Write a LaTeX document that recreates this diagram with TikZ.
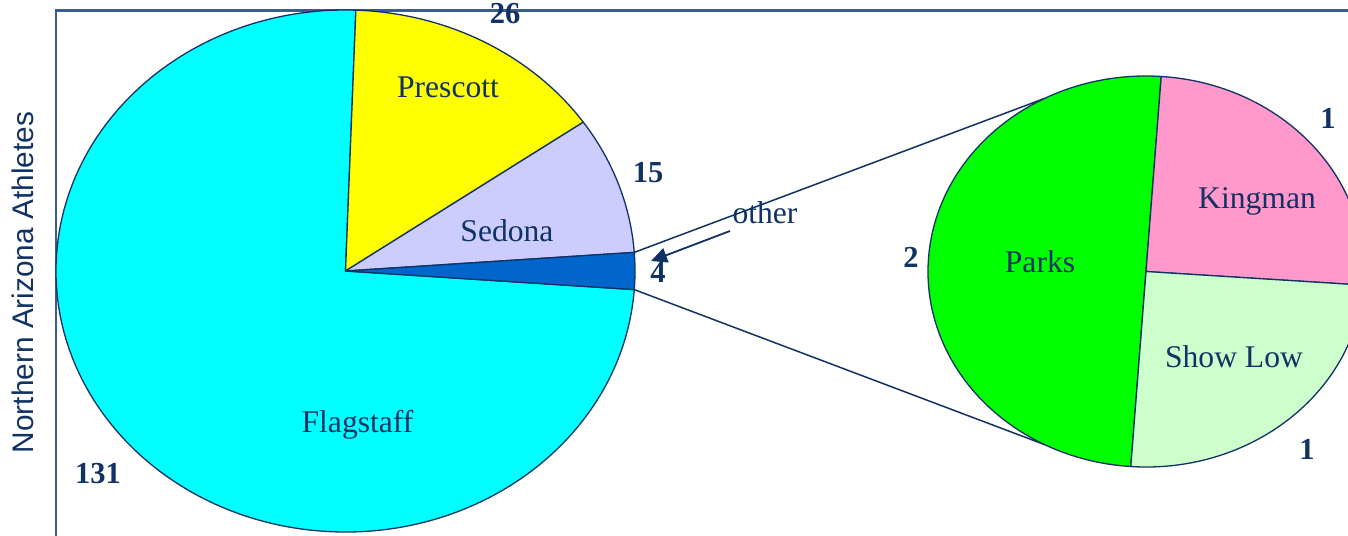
\documentclass[tikz,border=0pt]{standalone}
\usepackage{fontspec}
\setmainfont{Liberation Serif}
\newfontfamily\axisfont{Liberation Sans}
\usetikzlibrary{arrows.meta}
\definecolor{navy}{RGB}{16,50,100}
\definecolor{framec}{RGB}{58,94,140}
\definecolor{cflag}{RGB}{0,255,255}
\definecolor{cpres}{RGB}{255,255,0}
\definecolor{csed}{RGB}{204,204,255}
\definecolor{coth}{RGB}{0,102,204}
\definecolor{cparks}{RGB}{0,255,0}
\definecolor{cking}{RGB}{255,153,204}
\definecolor{cshow}{RGB}{204,255,204}
\tikzset{
  pieedge/.style={draw=navy, line width=1.3pt, line join=round},
  framel/.style={draw=framec, line width=2.2pt},
  lbl/.style={text=navy, font=\fontsize{31.6}{36}\selectfont, inner sep=0pt, anchor=base},
  num/.style={text=navy, font=\fontsize{30.5}{34}\selectfont\bfseries, inner sep=0pt, anchor=base},
  conn/.style={draw=navy, line width=1.5pt},
}
\newcommand{\pieslice}[5]{%
  \filldraw[pieedge, fill=#3] (0,0) -- (#1:#4 and #5) arc[start angle=#1, end angle=#2, x radius=#4, y radius=#5] -- cycle;}
\begin{document}
\begin{tikzpicture}[x=1pt,y=-1pt]
\useasboundingbox (0,0) rectangle (1348,535);
\clip (0,0) rectangle (1348,535);
\fill[white] (0,0) rectangle (1348,535);
% frame
\draw[framel] (56,536) -- (56,10.5) -- (1349,10.5);
% left pie
\begin{scope}[shift={(345.5,271)}, y=1pt]
  \pieslice{87.95}{355.91}{cflag}{289.5}{261}
  \pieslice{34.77}{87.95}{cpres}{289.5}{261}
  \pieslice{4.09}{34.77}{csed}{289.5}{261}
  \pieslice{-4.09}{4.09}{coth}{289.5}{261}
  \coordinate (Lt) at (4.09:289.5 and 261);
  \coordinate (Lb) at (-4.09:289.5 and 261);
\end{scope}
% right pie anchor points
\begin{scope}[shift={(1146,271.5)}, y=1pt]
  \coordinate (Rt) at (117.6:218 and 195.5);
  \coordinate (Rb) at (242.4:218 and 195.5);
\end{scope}
\draw[conn] (Lt) -- (Rt);
\draw[conn] (Lb) -- (Rb);
% right pie
\begin{scope}[shift={(1146,271.5)}, y=1pt]
  \pieslice{86}{266}{cparks}{218}{195.5}
  \pieslice{-4}{86}{cking}{218}{195.5}
  \pieslice{266}{356}{cshow}{218}{195.5}
\end{scope}
% labels
\node[lbl] (prescott) at (448,97) {Prescott};
\node[lbl] (sedona) at (507,241) {Sedona};
\node[lbl] (flag) at (357.5,432) {Flagstaff};
\node[lbl] (other) at (765,223) {other};
\node[lbl] (parks) at (1040,272.5) {Parks};
\node[lbl] (kingman) at (1257,208) {Kingman};
\node[lbl] (showlow) at (1234,367) {Show Low};
% numbers
\node[num] (n26) at (505,24) {26};
\node[num] (n15) at (648,182) {15};
\node[num] (n4) at (658,282) {4};
\node[num] (n131) at (98,483) {131};
\node[num] (n2) at (911,267) {2};
\node[num] (n1a) at (1328,128) {1};
\node[num] (n1b) at (1307,459) {1};
% arrow
\coordinate (arrS) at (730,231);
\coordinate (arrE) at (651,261);
\draw[navy, line width=1.8pt, -{Triangle[length=16pt,width=15pt]}] (arrS) -- (arrE);
% axis title
\node[text=navy, font=\axisfont\fontsize{29.8}{34}\selectfont, inner sep=0pt, rotate=90, anchor=base] (ytitle) at (33,282.5) {Northern Arizona Athletes};
\end{tikzpicture}
\end{document}
